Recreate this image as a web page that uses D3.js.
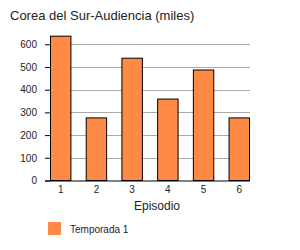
<!DOCTYPE html>
<html>
<head>
<meta charset="utf-8">
<script src="https://cdn.jsdelivr.net/npm/d3@7"></script>
<style>
  body { margin: 0; background: #fff; }
  svg { display: block; font-family: "Liberation Sans", Arial, sans-serif; }
</style>
</head>
<body>
<div id="chart"></div>
<script>
// data
const episodes = ['1', '2', '3', '4', '5', '6'];
const audience = [638, 278, 541, 361, 489, 278];
const yTicks = [0, 100, 200, 300, 400, 500, 600];
const seriesName = 'Temporada 1';

const W = 300, H = 250;
const plot = { left: 50, right: 250, top: 26, bottom: 180.5 };

const svg = d3.select('#chart').append('svg')
  .attr('width', W)
  .attr('height', H);

const x = d3.scaleBand().domain(episodes).range([plot.left, plot.right])
  .paddingInner(0.4).paddingOuter(0);
const y = d3.scaleLinear().domain([0, 600]).range([plot.bottom, 44.3]);

// title
svg.append('text')
  .attr('x', 10).attr('y', 20)
  .attr('font-size', 13).attr('fill', '#222')
  .text('Corea del Sur-Audiencia (miles)');

// gridlines
svg.append('g')
  .selectAll('line')
  .data(yTicks.filter(d => d > 0))
  .join('line')
  .attr('x1', plot.left).attr('x2', plot.right)
  .attr('y1', d => Math.round(y(d)) + 0.5).attr('y2', d => Math.round(y(d)) + 0.5)
  .attr('stroke', '#aaa').attr('stroke-width', 1);

// y axis (ticks + labels, no domain line)
const yAxis = svg.append('g')
  .attr('transform', 'translate(' + plot.left + ',0)')
  .call(d3.axisLeft(y).tickValues(yTicks).tickSize(5).tickPadding(8).tickFormat(d3.format('d')));
yAxis.select('.domain').remove();
yAxis.selectAll('.tick line').attr('stroke', '#000');
yAxis.selectAll('.tick text')
  .attr('font-size', 10).attr('fill', '#222')
  .attr('font-family', '"Liberation Sans", Arial, sans-serif');

// bars
svg.append('g')
  .selectAll('rect')
  .data(audience)
  .join('rect')
  .attr('x', (d, i) => x(episodes[i]) + 0.5)
  .attr('y', d => y(d) + 0.5)
  .attr('width', x.bandwidth() - 1)
  .attr('height', d => plot.bottom - y(d) - 0.5)
  .attr('fill', '#ff8a45')
  .attr('stroke', '#000').attr('stroke-width', 1);

// x axis
const xAxis = svg.append('g')
  .attr('transform', 'translate(0,' + Math.round(plot.bottom) + ')')
  .call(d3.axisBottom(x).tickSize(0).tickPadding(5).tickSizeOuter(0));
xAxis.select('.domain').remove();
xAxis.append('line')
  .attr('x1', 45).attr('x2', plot.right)
  .attr('y1', 0).attr('y2', 0)
  .attr('stroke', '#000').attr('stroke-width', 1);
xAxis.selectAll('.tick text')
  .attr('font-size', 10).attr('fill', '#222')
  .attr('font-family', '"Liberation Sans", Arial, sans-serif');

// x axis title
svg.append('text')
  .attr('x', 157).attr('y', 210)
  .attr('text-anchor', 'middle')
  .attr('font-size', 12).attr('fill', '#222')
  .text('Episodio');

// legend
const legend = svg.append('g').attr('transform', 'translate(48,222)');
legend.append('rect')
  .attr('width', 13).attr('height', 13)
  .attr('fill', '#ff8a45');
legend.append('text')
  .attr('x', 22).attr('y', 10.5)
  .attr('font-size', 10).attr('fill', '#222')
  .text(seriesName);
</script>
</body>
</html>
